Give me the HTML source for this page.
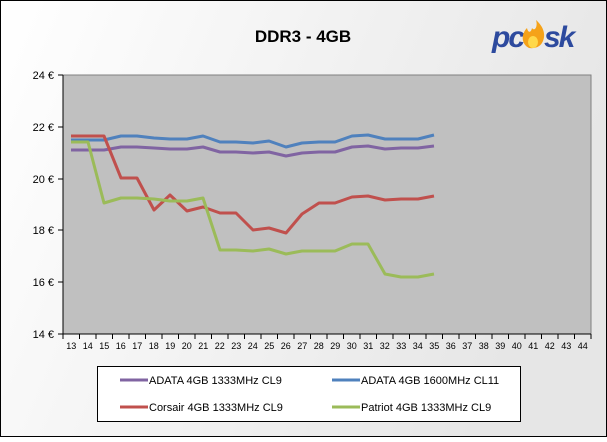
<!DOCTYPE html><html><head><style>body{margin:0}</style></head><body>
<svg width="607" height="437" xmlns="http://www.w3.org/2000/svg" font-family="Liberation Sans, sans-serif">
<defs><linearGradient id="bg" x1="0" y1="0" x2="1" y2="0.3"><stop offset="0" stop-color="#fff"/><stop offset="1" stop-color="#e6e6e6"/></linearGradient></defs>
<rect x="0.5" y="0.5" width="606" height="436" fill="url(#bg)" stroke="#000"/>
<text x="303" y="42" font-size="17" font-weight="bold" text-anchor="middle">DDR3 - 4GB</text>
<text x="492" y="47" font-size="30" font-weight="bold" font-style="italic" fill="#2d4a9e" letter-spacing="-2">pc</text>
<path d="M529 48 C521 44 521 34 527 28 C528 33 531 33 532 28 C535 32 538 26 536 20 C543 26 546 34 543 41 C541 46 536 49 529 48 Z" fill="#f5a219"/>
<ellipse cx="533" cy="42" rx="5" ry="6" fill="#ffd84a"/>
<text x="544" y="47" font-size="30" font-weight="bold" font-style="italic" fill="#2d4a9e" letter-spacing="-2">sk</text>
<rect x="63" y="75" width="528" height="259" fill="#c0c0c0" stroke="#808080"/>
<g stroke="#000"><line x1="63" y1="75" x2="63" y2="334"/><line x1="63" y1="334" x2="591" y2="334"/>
<line x1="58" y1="75" x2="63" y2="75"/><line x1="58" y1="127" x2="63" y2="127"/><line x1="58" y1="179" x2="63" y2="179"/><line x1="58" y1="230" x2="63" y2="230"/><line x1="58" y1="282" x2="63" y2="282"/><line x1="58" y1="334" x2="63" y2="334"/>
<path d="M63 334v5M79.5 334v5M96 334v5M112.5 334v5M129 334v5M145.5 334v5M162 334v5M178.5 334v5M195 334v5M211.5 334v5M228 334v5M244.5 334v5M261 334v5M277.5 334v5M294 334v5M310.5 334v5M327 334v5M343.5 334v5M360 334v5M376.5 334v5M393 334v5M409.5 334v5M426 334v5M442.5 334v5M459 334v5M475.5 334v5M492 334v5M508.5 334v5M525 334v5M541.5 334v5M558 334v5M574.5 334v5M591 334v5"/></g>
<g font-size="11" text-anchor="end"><text x="54" y="79">24 €</text><text x="54" y="131">22 €</text><text x="54" y="183">20 €</text><text x="54" y="234">18 €</text><text x="54" y="286">16 €</text><text x="54" y="338">14 €</text></g>
<g font-size="9" text-anchor="middle">
<text x="71.25" y="349">13</text><text x="87.75" y="349">14</text><text x="104.25" y="349">15</text><text x="120.75" y="349">16</text><text x="137.25" y="349">17</text><text x="153.75" y="349">18</text><text x="170.25" y="349">19</text><text x="186.75" y="349">20</text><text x="203.25" y="349">21</text><text x="219.75" y="349">22</text><text x="236.25" y="349">23</text><text x="252.75" y="349">24</text><text x="269.25" y="349">25</text><text x="285.75" y="349">26</text><text x="302.25" y="349">27</text><text x="318.75" y="349">28</text><text x="335.25" y="349">29</text><text x="351.75" y="349">30</text><text x="368.25" y="349">31</text><text x="384.75" y="349">32</text><text x="401.25" y="349">33</text><text x="417.75" y="349">34</text><text x="434.25" y="349">35</text><text x="450.75" y="349">36</text><text x="467.25" y="349">37</text><text x="483.75" y="349">38</text><text x="500.25" y="349">39</text><text x="516.75" y="349">40</text><text x="533.25" y="349">41</text><text x="549.75" y="349">42</text><text x="566.25" y="349">43</text><text x="582.75" y="349">44</text>
</g>
<g fill="none" stroke-width="3" stroke-linejoin="round">
<polyline stroke="#8064a2" points="71,150 88,150 104,150 121,147 137,147 154,148 170,149 187,149 203,147 220,152 236,152 253,153 269,152 286,156 302,153 319,152 335,152 352,147 368,146 385,149 401,148 418,148 434,146"/>
<polyline stroke="#4f81bd" points="71,140 88,140 104,140 121,136 137,136 154,138 170,139 187,139 203,136 220,142 236,142 253,143 269,141 286,147 302,143 319,142 335,142 352,136 368,135 385,139 401,139 418,139 434,135"/>
<polyline stroke="#c0504d" points="71,136 88,136 104,136 121,178 137,178 154,210 170,195 187,211 203,207 220,213 236,213 253,230 269,228 286,233 302,214 319,203 335,203 352,197 368,196 385,200 401,199 418,199 434,196"/>
<polyline stroke="#9bbb59" points="71,142 88,142 104,203 121,198 137,198 154,199 170,201 187,201 203,198 220,250 236,250 253,251 269,249 286,254 302,251 319,251 335,251 352,244 368,244 385,274 401,277 418,277 434,274"/>
</g>
<rect x="97.5" y="366.5" width="423" height="55" fill="#fff" stroke="#000"/>
<g stroke-width="3"><line x1="120" y1="380" x2="148" y2="380" stroke="#8064a2"/><line x1="332" y1="380" x2="360" y2="380" stroke="#4f81bd"/><line x1="120" y1="407" x2="148" y2="407" stroke="#c0504d"/><line x1="332" y1="407" x2="360" y2="407" stroke="#9bbb59"/></g>
<g font-size="11"><text x="149" y="384">ADATA 4GB 1333MHz CL9</text><text x="361" y="384">ADATA 4GB 1600MHz CL11</text><text x="149" y="411">Corsair 4GB 1333MHz CL9</text><text x="361" y="411">Patriot 4GB 1333MHz CL9</text></g>
</svg></body></html>
